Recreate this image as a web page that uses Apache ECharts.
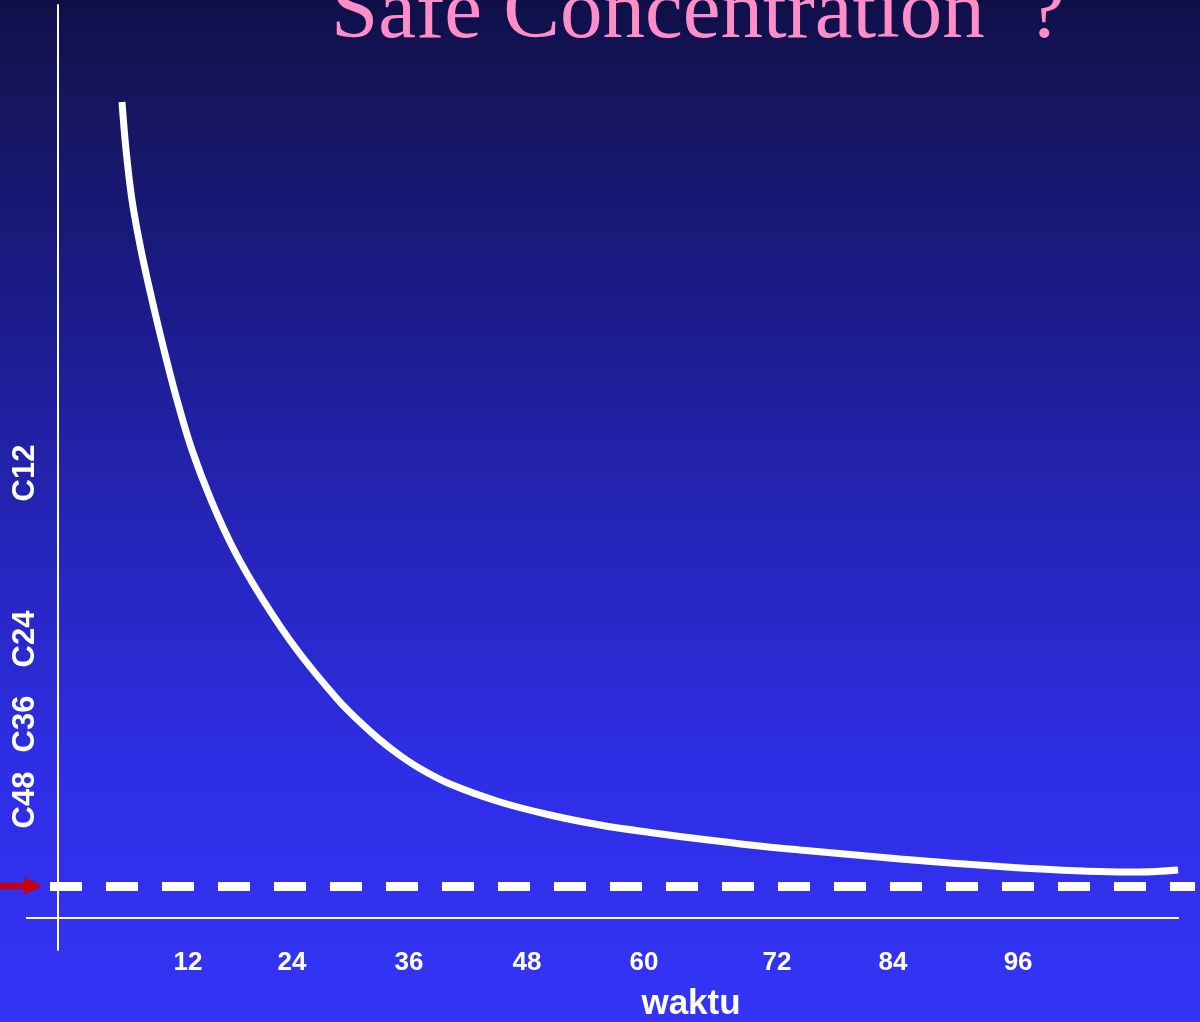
<!DOCTYPE html>
<html>
<head>
<meta charset="utf-8">
<script src="https://cdn.jsdelivr.net/npm/echarts@6/dist/echarts.min.js"></script>
<style>
html,body{margin:0;padding:0;background:#1c1c90;}
#chart{width:1200px;height:1022px;}
</style>
</head>
<body>
<div id="chart"></div>
<script>
// ---- data (x: time units along axis, y: concentration units) ----
const titleText = 'Safe Concentration  ?';
const xAxisTitle = 'waktu';
const xTickPos = [13.16, 23.65, 35.44, 47.34, 59.14, 72.55, 84.25, 96.86];
const xTickLabels = ['12', '24', '36', '48', '60', '72', '84', '96'];
const yTickPos = [44.5, 27.9, 19.4, 11.8];
const yTickLabels = ['C12', 'C24', 'C36', 'C48'];
const curveX = [6.50, 6.91, 7.51, 8.42, 9.53, 10.74, 12.05, 13.56, 15.48, 17.80, 20.72, 24.15, 28.29, 30.50, 32.52, 34.54, 36.55, 39.58, 44.62, 49.66, 54.70, 59.75, 64.79, 69.83, 74.87, 79.92, 84.96, 90.00, 95.04, 100.08, 105.12, 109.16, 112.99];
const curveY = [81.6, 76.8, 71.8, 66.8, 61.8, 56.8, 51.8, 46.8, 41.8, 36.8, 31.8, 26.8, 21.8, 19.6, 17.8, 16.25, 14.95, 13.4, 11.6, 10.3, 9.3, 8.55, 7.9, 7.3, 6.8, 6.35, 5.9, 5.5, 5.15, 4.85, 4.65, 4.6, 4.8];
const safeLevel = 3.2;
const xRange = [-5.8, 115.2];
const yRange = [-3.2, 91.3];
const baseLineSpan = [-3.18, 113.08];
const safeLineSpan = [-0.76, 114.7];
const arrowSpan = [-5.8, -2.47];

const chart = echarts.init(document.getElementById('chart'), null, {renderer: 'canvas'});

function labelFor(v, pos, labels) {
  let best = 0, bd = Infinity;
  pos.forEach((p, i) => { const d = Math.abs(p - v); if (d < bd) { bd = d; best = i; } });
  return labels[best];
}

const option = {
  animation: false,
  backgroundColor: {
    type: 'linear', x: 0, y: 0, x2: 0, y2: 1,
    colorStops: [
      {offset: 0, color: '#0f0f48'},
      {offset: 0.1, color: '#16165f'},
      {offset: 0.3, color: '#1b1b8a'},
      {offset: 0.45, color: '#2222aa'},
      {offset: 0.6, color: '#2828c8'},
      {offset: 0.75, color: '#2e2ee6'},
      {offset: 1, color: '#3434f6'}
    ]
  },
  title: [
    {
      text: titleText, left: 331, top: -28, padding: 0,
      textStyle: {fontFamily: '"Liberation Serif", "Times New Roman", serif', fontWeight: 'normal', fontSize: 85, color: '#ff8ec8'}
    },
    {
      text: xAxisTitle, left: 691, top: 987, padding: 0, textAlign: 'center',
      textStyle: {fontFamily: '"Liberation Sans", Arial, sans-serif', fontWeight: 'bold', fontSize: 35, color: '#ffffff'}
    }
  ],
  grid: {left: 0, right: 0, top: 5, bottom: 72, containLabel: false, outerBoundsMode: 'none'},
  xAxis: {
    type: 'value', min: xRange[0], max: xRange[1],
    axisLine: {show: false}, axisTick: {show: false}, splitLine: {show: false},
    axisLabel: {
      customValues: xTickPos, margin: 0,
      formatter: v => labelFor(v, xTickPos, xTickLabels),
      color: '#ffffff', fontSize: 26, fontWeight: 'bold', fontFamily: '"Liberation Sans", Arial, sans-serif'
    }
  },
  yAxis: {
    type: 'value', min: yRange[0], max: yRange[1], offset: -58,
    axisLine: {show: true, lineStyle: {color: '#ffffff', width: 2}},
    axisTick: {show: false}, splitLine: {show: false},
    axisLabel: {
      customValues: yTickPos, rotate: 90, margin: 17,
      formatter: v => labelFor(v, yTickPos, yTickLabels),
      color: '#ffffff', fontSize: 31, fontWeight: 'bold', fontFamily: '"Liberation Sans", Arial, sans-serif'
    }
  },
  series: [
    {
      type: 'line', data: [], silent: true,
      markLine: {
        silent: true, symbol: ['none', 'none'], label: {show: false},
        lineStyle: {color: '#ffffff', width: 2, type: 'solid'},
        emphasis: {disabled: true},
        data: [[{coord: [baseLineSpan[0], 0]}, {coord: [baseLineSpan[1], 0]}]]
      }
    },
    {
      type: 'line', data: [], silent: true,
      markLine: {
        silent: true, symbol: ['none', 'none'], label: {show: false},
        lineStyle: {color: '#ffffff', width: 9, type: [32, 24], cap: 'butt'},
        emphasis: {disabled: true},
        data: [[{coord: [safeLineSpan[0], safeLevel]}, {coord: [safeLineSpan[1], safeLevel]}]]
      }
    },
    {
      type: 'line', data: [], silent: true,
      markLine: {
        silent: true, symbol: ['none', 'triangle'], symbolSize: [17, 18], label: {show: false},
        lineStyle: {color: '#cc0000', width: 6, type: 'solid'},
        itemStyle: {color: '#cc0000'},
        emphasis: {disabled: true},
        data: [[{coord: [arrowSpan[0], safeLevel]}, {coord: [arrowSpan[1], safeLevel]}]]
      }
    },
    {
      type: 'line', silent: true, showSymbol: false, smooth: 0.35,
      data: curveX.map((x, i) => [x, curveY[i]]),
      lineStyle: {color: '#ffffff', width: 7, cap: 'butt'}
    }
  ]
};
chart.setOption(option);
</script>
</body>
</html>
